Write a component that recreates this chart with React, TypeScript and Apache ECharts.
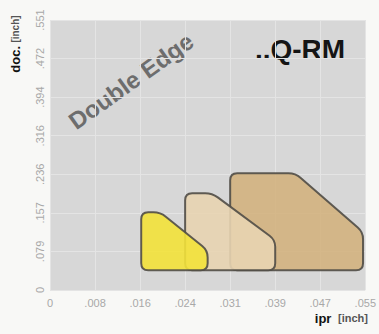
import React, { useEffect, useRef } from "react";
import * as echarts from "echarts";

// Axis tick labels (inch) at mm steps 0,0.2..1.4 (x) and 0,2..14 (y)
const xTickLabels = ["0", ".008", ".016", ".024", ".031", ".039", ".047", ".055"];
const yTickLabels = ["0", ".079", ".157", ".236", ".316", ".394", ".472", ".551"];

// Shape outlines (x in mm feed, y in mm depth of cut)
const shapeNames = ["large", "medium", "small"];
const largeX = [0.8, 1.09, 1.39, 1.39, 0.8];
const largeY = [6.05, 6.05, 3.0, 1.02, 1.02];
const mediumX = [0.6, 0.72, 1.0, 1.0, 0.6];
const mediumY = [5.02, 5.02, 2.6, 1.02, 1.02];
const smallX = [0.405, 0.49, 0.70, 0.70, 0.405];
const smallY = [4.03, 4.03, 2.05, 1.02, 1.02];
const shapeColors = ["#d3b27f", "#e8d4b1", "#f3e23a"];

const shapesX = [largeX, mediumX, smallX];
const shapesY = [largeY, mediumY, smallY];

function roundedPath(pts: number[][], r: number): string {
  const n = pts.length;
  let d = "";
  for (let i = 0; i < n; i++) {
    const p = pts[i];
    const prev = pts[(i - 1 + n) % n];
    const next = pts[(i + 1) % n];
    const v1x = prev[0] - p[0], v1y = prev[1] - p[1];
    const v2x = next[0] - p[0], v2y = next[1] - p[1];
    const l1 = Math.hypot(v1x, v1y), l2 = Math.hypot(v2x, v2y);
    const r1 = Math.min(r, l1 / 2), r2 = Math.min(r, l2 / 2);
    const a = [p[0] + (v1x / l1) * r1, p[1] + (v1y / l1) * r1];
    const b = [p[0] + (v2x / l2) * r2, p[1] + (v2y / l2) * r2];
    d += (i === 0 ? "M" : "L") + a[0].toFixed(2) + " " + a[1].toFixed(2);
    d += "Q" + p[0].toFixed(2) + " " + p[1].toFixed(2) + " " + b[0].toFixed(2) + " " + b[1].toFixed(2);
  }
  return d + "Z";
}

export default function App() {
  const ref = useRef<HTMLDivElement>(null);
  useEffect(() => {
    if (!ref.current) return;
    const chart = echarts.init(ref.current, null, { renderer: "svg" });
    const font = "Liberation Sans, Arial, sans-serif";
    chart.setOption({
      animation: false,
      backgroundColor: "#f8f8f6",
      grid: {
        left: 50,
        right: 7,
        top: 20,
        bottom: 44,
        show: true,
        backgroundColor: "#d7d7d7",
        borderWidth: 0,
      },
      xAxis: {
        type: "value",
        min: 0,
        max: 1.4,
        interval: 0.2,
        axisLine: { show: false },
        axisTick: { show: false },
        splitLine: { show: true, lineStyle: { color: "#e4e4e4", width: 1 } },
        axisLabel: {
          color: "#a8a8a8",
          fontSize: 11,
          fontFamily: font,
          margin: 7,
          showMaxLabel: true,
          showMinLabel: true,
          formatter: (v: number) => xTickLabels[Math.round(v / 0.2)] ?? "",
        },
      },
      yAxis: {
        type: "value",
        min: 0,
        max: 14,
        interval: 2,
        axisLine: { show: false },
        axisTick: { show: false },
        splitLine: { show: true, lineStyle: { color: "#e4e4e4", width: 1 } },
        axisLabel: {
          color: "#a8a8a8",
          fontSize: 11,
          fontFamily: font,
          rotate: 90,
          margin: 5,
          showMaxLabel: true,
          showMinLabel: true,
          formatter: (v: number) => yTickLabels[Math.round(v / 2)] ?? "",
        },
      },
      series: [
        {
          type: "custom",
          clip: false,
          data: shapeNames.map((_, i) => [i]),
          renderItem: (params: any, api: any) => {
            const i = params.dataIndex;
            const xs = shapesX[i];
            const ys = shapesY[i];
            const pts = xs.map((x, k) => api.coord([x, ys[k]]));
            return {
              type: "path",
              shape: { pathData: roundedPath(pts, 7) },
              style: {
                fill: shapeColors[i],
                stroke: "#504c46",
                lineWidth: 2,
                opacity: 0.9,
              },
            };
          },
        },
      ],
      graphic: [
        {
          type: "text",
          x: 131,
          y: 81,
          rotation: 0.62,
          style: {
            text: "Double Edge",
            fill: "#6d6d6d",
            font: "bold 24px Liberation Sans, Arial, sans-serif",
            align: "center",
            verticalAlign: "middle",
          },
        },
        {
          type: "text",
          x: 300,
          y: 49,
          style: {
            text: "..Q-RM",
            fill: "#151515",
            font: "bold 28px Liberation Sans, Arial, sans-serif",
            align: "center",
            verticalAlign: "middle",
          },
        },
        {
          type: "text",
          x: 15,
          y: 44,
          rotation: Math.PI / 2,
          style: {
            text: "{a|doc.} {b|[inch]}",
            align: "center",
            verticalAlign: "middle",
            rich: {
              a: { fontSize: 13, fontWeight: "bold", fill: "#111", fontFamily: font },
              b: { fontSize: 10, fontWeight: "bold", fill: "#555", fontFamily: font },
            },
          },
        },
        {
          type: "text",
          x: 368,
          y: 318,
          style: {
            text: "{a|ipr}  {b|[inch]}",
            align: "right",
            verticalAlign: "middle",
            rich: {
              a: { fontSize: 13, fontWeight: "bold", fill: "#111", fontFamily: font },
              b: { fontSize: 11, fontWeight: "bold", fill: "#555", fontFamily: font },
            },
          },
        },
      ],
    });
    return () => chart.dispose();
  }, []);
  return (
    <div
      ref={ref}
      style={{ position: "fixed", left: 0, top: 0, width: 379, height: 334 }}
    />
  );
}
